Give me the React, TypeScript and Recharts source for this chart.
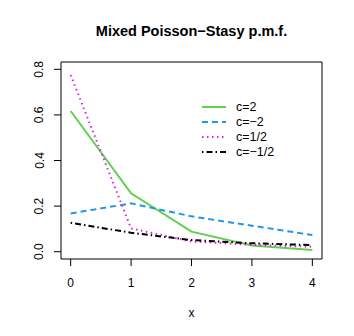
import { LineChart, Line, XAxis, YAxis, ReferenceArea } from "recharts";

const xs = [0, 1, 2, 3, 4];
const cPos2 = [0.617, 0.256, 0.088, 0.027, 0.007];
const cNeg2 = [0.168, 0.212, 0.155, 0.114, 0.073];
const cHalf = [0.775, 0.102, 0.045, 0.03, 0.022];
const cNegHalf = [0.127, 0.083, 0.051, 0.037, 0.029];

const xTicks = [0, 1, 2, 3, 4];
const yTicks = [0, 0.2, 0.4, 0.6, 0.8];

const data = xs.map((x, i) => ({
  x,
  c2: cPos2[i],
  cm2: cNeg2[i],
  ch: cHalf[i],
  cmh: cNegHalf[i],
}));

const legendItems = [
  { label: "c=2", color: "#61d04f", dash: undefined, width: 2 },
  { label: "c=\u22122", color: "#2297e6", dash: "6 4", width: 2 },
  { label: "c=1/2", color: "#df1ee6", dash: "1.5 3.5", width: 2 },
  { label: "c=\u22121/2", color: "#000000", dash: "1.5 3 6 3", width: 2 },
];

const font = "'Liberation Sans', Arial, sans-serif";

const XTick = (props: any) => {
  const { x, y, payload } = props;
  return (
    <text x={x} y={y + 19} textAnchor="middle" fontSize={12} fontFamily={font} fill="#000">
      {payload.value}
    </text>
  );
};

const YTick = (props: any) => {
  const { x, y, payload } = props;
  const lx = x - 8.5;
  return (
    <text
      x={lx}
      y={y}
      textAnchor="middle"
      fontSize={12}
      fontFamily={font}
      fill="#000"
      transform={`rotate(-90 ${lx} ${y})`}
    >
      {payload.value.toFixed(1)}
    </text>
  );
};

export default function App() {
  return (
    <div style={{ margin: -8, width: 354, height: 336, background: "#fff", position: "relative", fontFamily: font }}>
      <div
        style={{
          position: "absolute",
          left: 0,
          width: 383,
          top: 22,
          textAlign: "center",
          fontWeight: "bold",
          fontSize: 14.5,
          lineHeight: "18px",
        }}
      >
        Mixed Poisson{"\u2212"}Stasy p.m.f.
      </div>
      <div style={{ position: "absolute", left: 0, width: 383, top: 305, textAlign: "center", fontSize: 12, lineHeight: "16px" }}>
        x
      </div>
      <div style={{ position: "absolute", left: 0, top: 0 }}>
        <LineChart width={354} height={336} data={data} margin={{ top: 62, right: 32, bottom: 0, left: 0 }}>
          <XAxis
            dataKey="x"
            type="number"
            domain={[-0.16, 4.16]}
            ticks={xTicks}
            allowDataOverflow
            axisLine={false}
            tickLine={{ stroke: "#000" }}
            tickSize={7}
            height={77}
            tick={<XTick />}
            interval={0}
          />
          <YAxis
            type="number"
            domain={[-0.032, 0.832]}
            ticks={yTicks}
            allowDataOverflow
            axisLine={false}
            tickLine={{ stroke: "#000" }}
            tickSize={7}
            width={61}
            tick={<YTick />}
            interval={0}
          />
          <ReferenceArea x1={-0.16} x2={4.16} y1={-0.032} y2={0.832} fill="none" stroke="#000" strokeWidth={1} fillOpacity={0} />
          <Line dataKey="c2" stroke="#61d04f" strokeWidth={2} dot={false} isAnimationActive={false} type="linear" />
          <Line dataKey="cm2" stroke="#2297e6" strokeWidth={2} strokeDasharray="6 4" dot={false} isAnimationActive={false} type="linear" />
          <Line dataKey="ch" stroke="#df1ee6" strokeWidth={2} strokeDasharray="1.5 3.5" dot={false} isAnimationActive={false} type="linear" />
          <Line dataKey="cmh" stroke="#000000" strokeWidth={2} strokeDasharray="1.5 3 6 3" dot={false} isAnimationActive={false} type="linear" />
        </LineChart>
      </div>
      <svg style={{ position: "absolute", left: 0, top: 0 }} width={354} height={336}>
        {legendItems.map((it, i) => {
          const y = 107 + i * 15;
          return (
            <g key={it.label}>
              <line x1={202} x2={226} y1={y} y2={y} stroke={it.color} strokeWidth={it.width} strokeDasharray={it.dash} />
              <text x={236} y={y + 4} fontSize={12.5} fontFamily={font} fill="#000">
                {it.label}
              </text>
            </g>
          );
        })}
      </svg>
    </div>
  );
}
